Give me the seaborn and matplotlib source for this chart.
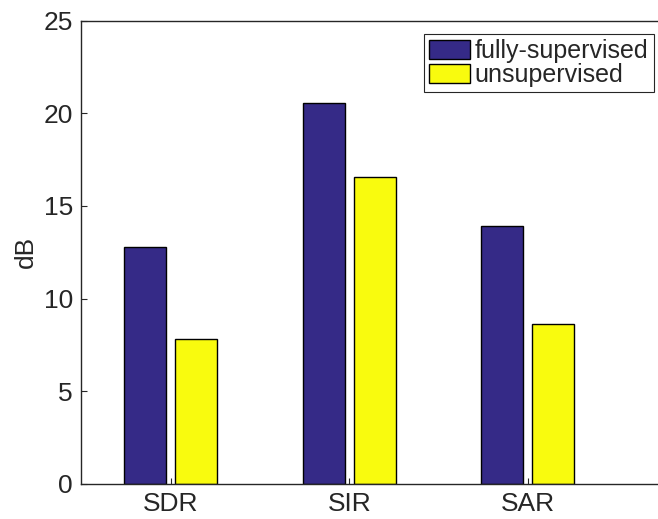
import matplotlib
matplotlib.use("Agg")
import matplotlib.pyplot as plt
import seaborn as sns
import pandas as pd

metrics = ["SDR", "SIR", "SAR"]
fully_supervised = [12.8, 20.55, 13.9]
unsupervised = [7.8, 16.55, 8.6]
methods = ["fully-supervised", "unsupervised"]
colors = ["#352a87", "#f9fb0e"]
yticks = [0, 5, 10, 15, 20, 25]

df = pd.DataFrame({
    "metric": metrics * 2,
    "dB": fully_supervised + unsupervised,
    "method": [methods[0]] * 3 + [methods[1]] * 3,
})

sns.set_style("ticks")
plt.rcParams["font.family"] = ["Liberation Sans", "DejaVu Sans"]

FS = 19
LEG_FS = 18
W, H = 658, 519
fig = plt.figure(figsize=(W / 100, H / 100), dpi=100)
left_px, top_px, bottom_px = 81.4, 20.7, 483.7
ax = fig.add_axes([left_px / W, 1 - bottom_px / H, 1 - left_px / W + 0.01,
                   (bottom_px - top_px) / H])

sns.barplot(data=df, x="metric", y="dB", hue="method", palette=colors,
            width=0.572, gap=0.18, edgecolor="black", linewidth=1.0,
            saturation=1, ax=ax)

group_px = 178.7
ax.set_xlim(-0.5, -0.5 + (W + 7 - left_px) / group_px)
ax.set_ylim(0, 25)
ax.set_yticks(yticks)
ax.set_xlabel("")
ax.set_ylabel("dB", fontsize=FS, color="#262626", labelpad=4)

ink = "#262626"
for side in ["left", "bottom", "top"]:
    ax.spines[side].set_color(ink)
    ax.spines[side].set_linewidth(1.0)
ax.spines["right"].set_visible(False)
ax.tick_params(axis="both", direction="in", length=4, width=0.8,
               colors=ink, labelsize=FS, labelcolor=ink)
ax.tick_params(axis="x", pad=6)
ax.tick_params(axis="y", pad=6)

handles, labels = ax.get_legend_handles_labels()
ax.get_legend().remove()
leg = fig.legend(handles, labels, loc="upper right",
                 bbox_to_anchor=(653.5 / W, 1 - 34 / H),
                 fontsize=LEG_FS, frameon=True, fancybox=False, framealpha=1,
                 edgecolor="#262626", handlelength=1.65, handleheight=0.8,
                 handletextpad=0.2, borderpad=0.2, labelspacing=0.0,
                 borderaxespad=0)
leg.get_frame().set_linewidth(0.8)

fig.savefig("out.png", dpi=100)
